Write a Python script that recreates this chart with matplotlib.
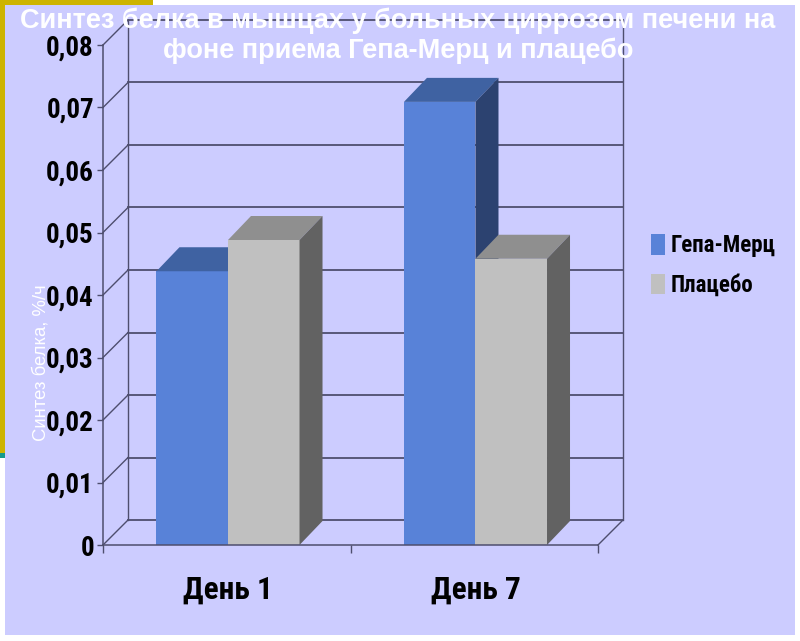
import matplotlib
matplotlib.use('Agg')
import matplotlib.pyplot as plt
from matplotlib.patches import Polygon, Rectangle

days = ['День 1', 'День 7']
gepa = [0.0438, 0.0709]
placebo = [0.0488, 0.0458]
y_ticks = [0, 0.01, 0.02, 0.03, 0.04, 0.05, 0.06, 0.07, 0.08]
y_labels = ['0', '0,01', '0,02', '0,03', '0,04', '0,05', '0,06', '0,07', '0,08']
title = 'Синтез белка в мышцах у больных циррозом печени на\nфоне приема Гепа-Мерц и плацебо'
y_title = 'Синтез белка, %/ч'

W, H = 800, 641
narrow = ['Roboto Condensed', 'PT Sans Narrow', 'Liberation Sans', 'DejaVu Sans']
line_col = '#4e4e6e'


def px_rect(x0, y0, x1, y1, color):
    # rectangle given in image pixels, y going down
    fig.add_artist(Rectangle((x0 / W, 1 - y1 / H), (x1 - x0) / W, (y1 - y0) / H,
                             transform=fig.transFigure, color=color, lw=0, zorder=-5))


def box(left, width, value, front, top, side):
    # fake 3d bar, the depth goes up and to the right
    bars = ax.bar(left, value, width, align='edge', color=front, zorder=5, clip_on=False)
    right = left + width
    ax.add_patch(Polygon([(left, value), (right, value), (right + bar_dx, value + bar_dy),
                          (left + bar_dx, value + bar_dy)], color=top, lw=0, zorder=5, clip_on=False))
    ax.add_patch(Polygon([(right, 0), (right + bar_dx, bar_dy), (right + bar_dx, value + bar_dy),
                          (right, value)], color=side, lw=0, zorder=5, clip_on=False))
    return bars


fig = plt.figure(figsize=(8, 6.41), dpi=100, facecolor='white')
px_rect(5, 5, 795, 635, '#ccccff')
px_rect(0, 0, 153, 5, '#cdb400')
px_rect(0, 0, 4.5, 453, '#cdb400')
px_rect(0, 453, 4.5, 458, '#149a8c')

ax = fig.add_axes([103 / W, 1 - 545 / H, 495 / W, 500 / H])
ax.patch.set_alpha(0)
ax.set_xlim(0, 2)
ax.set_ylim(0, 0.08)

# wall depth in data units
wall_dx = 25 / 247.5
wall_dy = 0.004
bar_dx = 23 / 247.5
bar_dy = 0.00384

for t in y_ticks:
    ax.plot([0, wall_dx], [t, t + wall_dy], color=line_col, lw=1, clip_on=False, zorder=1)
    ax.plot([wall_dx, 2 + wall_dx], [t + wall_dy, t + wall_dy], color=line_col, lw=1.3, clip_on=False, zorder=1)
ax.plot([wall_dx, wall_dx], [wall_dy, 0.08 + wall_dy], color=line_col, lw=1, clip_on=False, zorder=1)
ax.plot([2 + wall_dx, 2 + wall_dx], [wall_dy, 0.08 + wall_dy], color=line_col, lw=1, clip_on=False, zorder=1)
ax.plot([2, 2 + wall_dx], [0, wall_dy], color=line_col, lw=1, clip_on=False, zorder=1)

width = 0.289
for i in range(len(days)):
    b1 = box(i + 0.505 - width, width, gepa[i], '#5882d8', '#3f62a2', '#2c4270')
    b2 = box(i + 0.505, width, placebo[i], '#c0c0c0', '#8f8f8f', '#626262')
b1[0].set_label('Гепа-Мерц')
b2[0].set_label('Плацебо')

for s in ['top', 'right']:
    ax.spines[s].set_visible(False)
for s in ['left', 'bottom']:
    ax.spines[s].set_color(line_col)
    ax.spines[s].set_linewidth(1.1)
    ax.spines[s].set_zorder(6)

ax.set_yticks(y_ticks)
ax.set_yticklabels(y_labels, fontsize=19.5, family=narrow, fontweight='bold')
ax.tick_params(axis='y', length=4.5, width=1, color=line_col, pad=2)
ax.set_xticks([0, 1, 2])
ax.set_xticklabels([])
ax.tick_params(axis='x', length=6, width=1, color=line_col)
ax.set_xticks([0.505, 1.507], minor=True)
ax.set_xticklabels(days, minor=True, fontsize=22.5, family=narrow, fontweight='bold')
ax.tick_params(axis='x', which='minor', length=0, pad=21)

ax.legend(loc='upper left', bbox_to_anchor=(651 / W, 1 - 234 / H), bbox_transform=fig.transFigure,
          frameon=False, prop={'family': narrow, 'size': 16.5, 'weight': 'bold'}, handlelength=0.6,
          handleheight=1.0, handletextpad=0.27, labelspacing=0.72, borderpad=0, borderaxespad=0)

fig.text(398 / W, 1 - 8 / H, title, color='white', fontsize=19.5, fontweight='bold', family='Liberation Sans',
         ha='center', va='top', linespacing=1.15, zorder=10)
fig.text(41 / W, 1 - 363 / H, y_title, color='white', fontsize=13.3, family='Liberation Sans',
         rotation=90, ha='center', va='center', zorder=10)

fig.savefig('out.png', dpi=100)
